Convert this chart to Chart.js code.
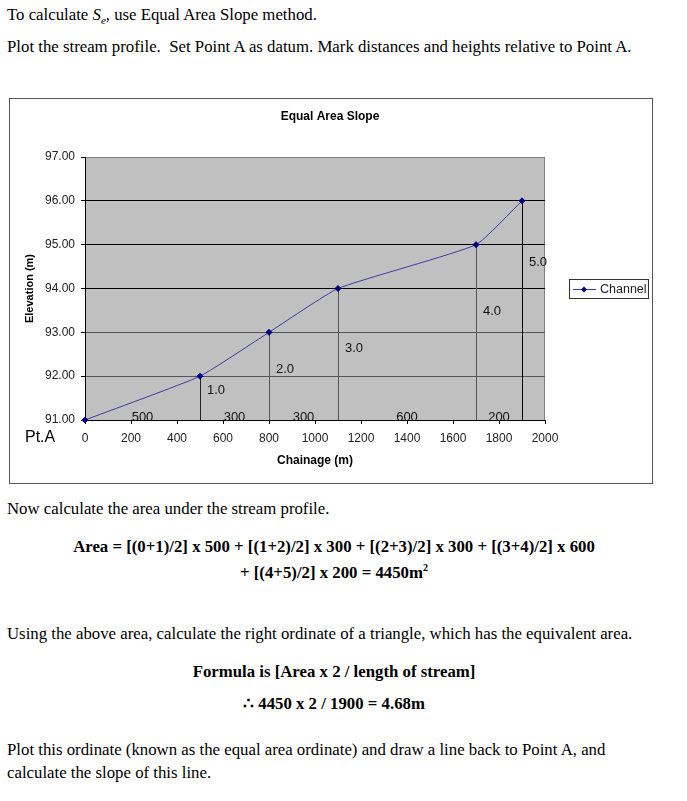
<!DOCTYPE html>
<html>
<head>
<meta charset="utf-8">
<script src="https://cdn.jsdelivr.net/npm/chart.js@4.4.0/dist/chart.umd.min.js"></script>
<style>
body { margin: 0; background: #fff; color: #000; font-family: "Liberation Serif", "Times New Roman", serif; font-size: 16.8px; }
.t { position: absolute; left: 7px; white-space: nowrap; line-height: 18px; }
.c { position: absolute; left: 0; width: 668px; text-align: center; font-weight: bold; white-space: nowrap; line-height: 18px; }
#box { position: absolute; left: 9px; top: 98px; width: 644px; height: 386px; border: 1px solid #555; box-sizing: border-box; }
#profile { display: block; }
</style>
</head>
<body>
<div class="t" style="top:6px">To calculate <i>S<sub style="font-size:11px">e</sub></i>, use Equal Area Slope method.</div>
<div class="t" style="top:38px">Plot the stream profile.&nbsp; Set Point A as datum. Mark distances and heights relative to Point A.</div>

<div id="box"><canvas id="profile" width="642" height="384"></canvas></div>

<div class="t" style="top:500px">Now calculate the area under the stream profile.</div>
<div class="c" style="top:538px">Area = [(0+1)/2] x 500 + [(1+2)/2] x 300 + [(2+3)/2] x 300 + [(3+4)/2] x 600</div>
<div class="c" style="top:559px">+ [(4+5)/2] x 200 = 4450m<sup style="font-size:10px">2</sup></div>
<div class="t" style="top:625px">Using the above area, calculate the right ordinate of a triangle, which has the equivalent area.</div>
<div class="c" style="top:663px">Formula is [Area x 2 / length of stream]</div>
<div class="c" style="top:695px">&there4; 4450 x 2 / 1900 = 4.68m</div>
<div class="t" style="top:741px">Plot this ordinate (known as the equal area ordinate) and draw a line back to Point A, and</div>
<div class="t" style="top:764px">calculate the slope of this line.</div>

<script>
// ---- stream profile data (relative to Point A) ----
var chainage = [0, 500, 800, 1100, 1700, 1900];
var elevation = [91, 92, 93, 94, 95, 96];
var segmentLengths = ['500', '300', '300', '600', '200'];
var ordinateHeights = ['1.0', '2.0', '3.0', '4.0', '5.0'];

// where each height label sits, in elevation units
var heightLabelAt = [91.68, 92.16, 92.64, 93.47, 94.6];
var dropLineColors = ['#222', '#555', '#555', '#555', '#000'];

Chart.defaults.font.family = '"Liberation Sans", Arial, sans-serif';
Chart.defaults.color = '#222';

var SERIES_LINE = '#3c3ca8';
var SERIES_MARK = '#000080';

var profileDecor = {
    id: 'profileDecor',
    beforeDraw: function(chart) {
        var a = chart.chartArea, ctx = chart.ctx;
        ctx.save();
        ctx.fillStyle = '#c0c0c0';
        ctx.fillRect(a.left, a.top, a.right - a.left, a.bottom - a.top);
        ctx.strokeStyle = '#808080';
        ctx.lineWidth = 1;
        ctx.strokeRect(a.left + 0.5, a.top + 0.5, a.right - a.left - 1, a.bottom - a.top);
        ctx.restore();
    },
    beforeDatasetsDraw: function(chart) {
        var a = chart.chartArea, ctx = chart.ctx;
        var xs = chart.scales.x, ys = chart.scales.y;
        ctx.save();
        ctx.lineWidth = 1;
        for (var i = 1; i < chainage.length; i++) {
            var px = Math.round(xs.getPixelForValue(chainage[i])) + 0.5;
            ctx.strokeStyle = dropLineColors[i - 1];
            ctx.beginPath();
            ctx.moveTo(px, ys.getPixelForValue(elevation[i]));
            ctx.lineTo(px, a.bottom);
            ctx.stroke();
        }
        ctx.restore();
    },
    afterDraw: function(chart) {
        var a = chart.chartArea, ctx = chart.ctx;
        var xs = chart.scales.x, ys = chart.scales.y;
        ctx.save();

        // title
        ctx.fillStyle = '#000';
        ctx.font = 'bold 12px "Liberation Sans", Arial, sans-serif';
        ctx.textAlign = 'center';
        ctx.textBaseline = 'middle';
        ctx.fillText('Equal Area Slope', chart.width / 2 - 1, 18);

        // segment lengths along the bed
        ctx.font = '13px "Liberation Sans", Arial, sans-serif';
        ctx.fillStyle = '#111';
        ctx.textBaseline = 'alphabetic';
        for (var i = 0; i < segmentLengths.length; i++) {
            var mid = (chainage[i] + chainage[i + 1]) / 2;
            ctx.fillText(segmentLengths[i], xs.getPixelForValue(mid), a.bottom + 1);
        }

        // ordinate heights beside the drop lines
        ctx.textAlign = 'left';
        ctx.textBaseline = 'middle';
        for (var j = 0; j < ordinateHeights.length; j++) {
            ctx.fillText(ordinateHeights[j], xs.getPixelForValue(chainage[j + 1]) + 7, ys.getPixelForValue(heightLabelAt[j]));
        }

        // datum label
        ctx.font = '16px "Liberation Sans", Arial, sans-serif';
        ctx.fillStyle = '#000';
        ctx.fillText('Pt.A', a.left - 60, a.bottom + 18);

        // legend
        var lx = a.right + 24, ly = Math.round((a.top + a.bottom) / 2) - 10;
        ctx.strokeStyle = '#333';
        ctx.strokeRect(lx + 0.5, ly + 0.5, 79, 19);
        ctx.strokeStyle = SERIES_LINE;
        ctx.beginPath();
        ctx.moveTo(lx + 4, ly + 10.5);
        ctx.lineTo(lx + 27, ly + 10.5);
        ctx.stroke();
        ctx.fillStyle = SERIES_MARK;
        ctx.beginPath();
        ctx.moveTo(lx + 15, ly + 7.5);
        ctx.lineTo(lx + 18, ly + 10.5);
        ctx.lineTo(lx + 15, ly + 13.5);
        ctx.lineTo(lx + 12, ly + 10.5);
        ctx.closePath();
        ctx.fill();
        ctx.fillStyle = '#222';
        ctx.font = '12.5px "Liberation Sans", Arial, sans-serif';
        ctx.fillText('Channel', lx + 31, ly + 10.5);

        ctx.restore();
    }
};

new Chart(document.getElementById('profile'), {
    type: 'scatter',
    data: {
        datasets: [{
            label: 'Channel',
            data: chainage.map(function(x, i) { return { x: x, y: elevation[i] }; }),
            showLine: true,
            borderColor: SERIES_LINE,
            borderWidth: 1,
            tension: 0.14,
            pointStyle: 'rectRot',
            pointRadius: 3,
            pointBackgroundColor: SERIES_MARK,
            pointBorderColor: SERIES_MARK,
            clip: false
        }]
    },
    options: {
        responsive: false,
        animation: false,
        events: [],
        layout: { padding: { left: 0, right: 107, top: 58, bottom: 0 } },
        plugins: {
            legend: { display: false },
            title: { display: false },
            tooltip: { enabled: false }
        },
        scales: {
            x: {
                type: 'linear',
                min: 0,
                max: 2000,
                border: { display: true, color: '#000' },
                grid: { drawOnChartArea: false, drawTicks: true, tickLength: 4, tickColor: '#000' },
                ticks: {
                    stepSize: 200,
                    autoSkip: false,
                    maxRotation: 0,
                    padding: 7,
                    font: { size: 12 },
                    color: '#222',
                    callback: function(v) { return String(v); }
                },
                title: { display: true, text: 'Chainage (m)', color: '#000', font: { size: 12, weight: 'bold' }, padding: { top: 0, bottom: 15 } },
                afterFit: function(scale) { scale.height = 63; }
            },
            y: {
                type: 'linear',
                min: 91,
                max: 97,
                border: { display: true, color: '#000' },
                grid: {
                    drawTicks: true,
                    tickLength: 4,
                    tickColor: '#000',
                    color: function(c) {
                        var v = c.tick ? c.tick.value : 0;
                        if (v >= 97) return '#808080';
                        return v >= 94 ? '#000' : '#555';
                    }
                },
                ticks: {
                    stepSize: 1,
                    padding: 6,
                    font: { size: 12 },
                    color: '#222',
                    callback: function(v) { return Number(v).toFixed(2); }
                },
                title: { display: true, text: 'Elevation (m)', color: '#000', font: { size: 11, weight: 'bold' }, padding: { top: 13, bottom: 0 } },
                afterFit: function(scale) { scale.width = 75; }
            }
        }
    },
    plugins: [profileDecor]
});
</script>
</body>
</html>
